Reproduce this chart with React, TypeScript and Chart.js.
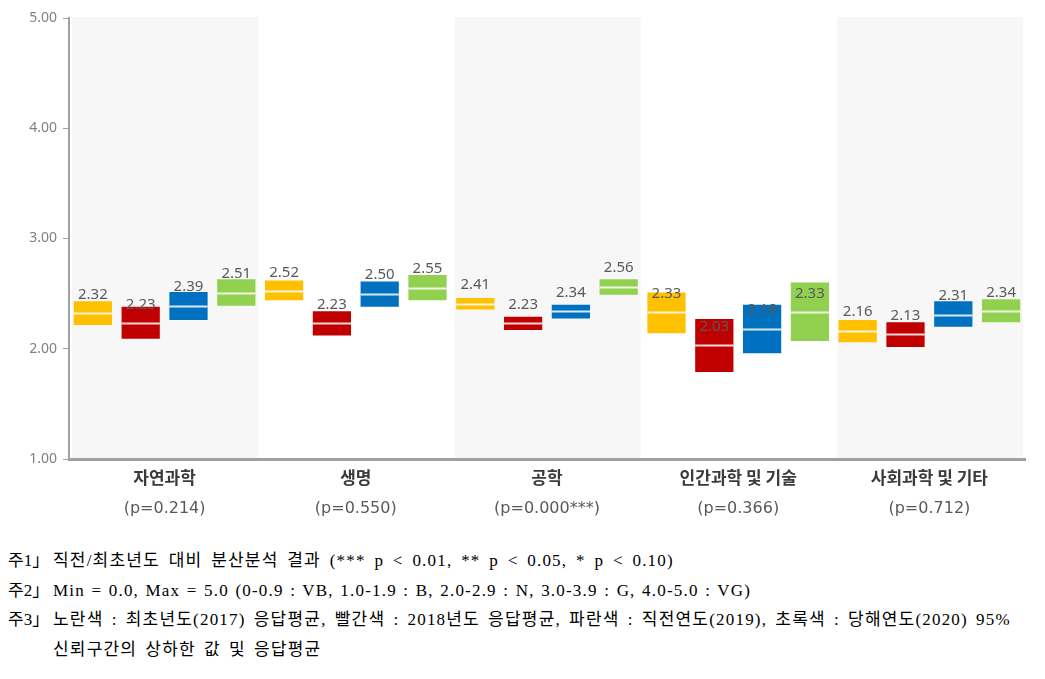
import React, { useEffect, useRef } from "react";
import { Chart, registerables } from "chart.js";

Chart.register(...registerables);

const categories = ["자연과학", "생명", "공학", "인간과학 및 기술", "사회과학 및 기타"];
const pLabels = ["(p=0.214)", "(p=0.550)", "(p=0.000***)", "(p=0.366)", "(p=0.712)"];
const seriesNames = ["최초년도(2017)", "2018년도", "직전연도(2019)", "당해연도(2020)"];
const seriesColors = ["#FFC000", "#C00000", "#0070C0", "#92D050"];

const mean2017 = [2.32, 2.52, 2.41, 2.33, 2.16];
const low2017 = [2.215, 2.44, 2.355, 2.14, 2.06];
const high2017 = [2.43, 2.62, 2.46, 2.51, 2.26];

const mean2018 = [2.23, 2.23, 2.23, 2.03, 2.13];
const low2018 = [2.09, 2.12, 2.17, 1.79, 2.015];
const high2018 = [2.38, 2.34, 2.29, 2.27, 2.24];

const mean2019 = [2.39, 2.5, 2.34, 2.18, 2.31];
const low2019 = [2.26, 2.38, 2.275, 1.96, 2.2];
const high2019 = [2.515, 2.61, 2.4, 2.4, 2.43];

const mean2020 = [2.51, 2.55, 2.56, 2.33, 2.34];
const low2020 = [2.39, 2.44, 2.49, 2.07, 2.24];
const high2020 = [2.63, 2.67, 2.63, 2.6, 2.45];

const yTicks = [1, 2, 3, 4, 5];

const means = [mean2017, mean2018, mean2019, mean2020];
const lows = [low2017, low2018, low2019, low2020];
const highs = [high2017, high2018, high2019, high2020];

const KR_FONT = "'Noto Sans CJK KR', 'Noto Sans', sans-serif";
const NUM_FONT = "'Noto Sans', 'DejaVu Sans', sans-serif";
const P_FONT = "'DejaVu Sans', 'Noto Sans', sans-serif";

const shadePlugin = {
  id: "shade",
  beforeDatasetsDraw(chart: any) {
    const { ctx, chartArea, scales } = chart;
    const x = scales.x;
    const n = categories.length;
    const w = (chartArea.right - chartArea.left) / n;
    ctx.save();
    ctx.fillStyle = "#f7f7f7";
    for (let i = 0; i < n; i += 2) {
      const c = x.getPixelForValue(i);
      ctx.fillRect(c - w / 2 + 3, chartArea.top - 1, w - 5, chartArea.bottom - chartArea.top);
    }
    ctx.restore();
  },
};

const meanPlugin = {
  id: "meanLines",
  afterDatasetsDraw(chart: any) {
    const { ctx, scales } = chart;
    const y = scales.y;
    ctx.save();
    chart.data.datasets.forEach((ds: any, di: number) => {
      const meta = chart.getDatasetMeta(di);
      meta.data.forEach((el: any, i: number) => {
        const m = means[di][i];
        const py = Math.round(y.getPixelForValue(m)) + 0.5;
        const half = el.width / 2;
        ctx.strokeStyle = "rgba(255,255,255,0.85)";
        ctx.lineWidth = 2;
        ctx.beginPath();
        ctx.moveTo(el.x - half, py);
        ctx.lineTo(el.x + half, py);
        ctx.stroke();
      });
    });
    chart.data.datasets.forEach((ds: any, di: number) => {
      const meta = chart.getDatasetMeta(di);
      meta.data.forEach((el: any, i: number) => {
        const m = means[di][i];
        const py = y.getPixelForValue(m) - 19;
        ctx.fillStyle = "#595959";
        ctx.font = `15px ${NUM_FONT}`;
        ctx.textAlign = "center";
        ctx.textBaseline = "middle";
        ctx.fillText(m.toFixed(2), el.x, py);
      });
    });
    ctx.restore();
  },
};

function ChartView() {
  const ref = useRef<HTMLCanvasElement | null>(null);
  useEffect(() => {
    if (!ref.current) return;
    const chart = new Chart(ref.current, {
      type: "bar",
      data: {
        labels: categories,
        datasets: seriesNames.map((name, di) => ({
          label: name,
          data: categories.map((_, i) => [lows[di][i], highs[di][i]]),
          backgroundColor: seriesColors[di],
          borderWidth: 0,
          borderSkipped: false,
          categoryPercentage: 1.0,
          barPercentage: 0.8,
        })),
      },
      options: {
        responsive: false,
        animation: false,
        layout: { padding: { top: 18, right: 20, left: 0, bottom: 0 } },
        plugins: {
          legend: { display: false },
          tooltip: { enabled: false },
        },
        scales: {
          x: {
            type: "category",
            offset: true,
            grid: { display: false, drawTicks: false, tickLength: 0 },
            border: { display: true, color: "#a0a0a0", width: 3 },
            ticks: {
              color: "#3a3a3a",
              font: { family: KR_FONT, size: 17, weight: "bold" },
              padding: 8,
              maxRotation: 0,
              autoSkip: false,
            },
            afterFit: (s: any) => {
              s.height = 31;
            },
          },
          x2: {
            type: "category",
            position: "bottom",
            labels: pLabels,
            offset: true,
            grid: { display: false, drawTicks: false, tickLength: 0 },
            border: { display: false },
            ticks: {
              color: "#595959",
              font: { family: P_FONT, size: 16 },
              padding: 9,
              maxRotation: 0,
              autoSkip: false,
            },
            afterFit: (s: any) => {
              s.height = 35;
            },
          },
          y: {
            min: 1,
            max: 5,
            afterBuildTicks: (s: any) => {
              s.ticks = yTicks.map((v) => ({ value: v }));
            },
            grid: {
              display: true,
              drawOnChartArea: false,
              drawTicks: true,
              tickLength: 6,
              color: "#a0a0a0",
            },
            border: { display: true, color: "#a0a0a0", width: 2 },
            ticks: {
              color: "#808080",
              font: { family: NUM_FONT, size: 14 },
              padding: 6,
              callback: (v: any) => Number(v).toFixed(2),
            },
            afterFit: (s: any) => {
              s.width = 69;
            },
          },
        },
      },
      plugins: [shadePlugin, meanPlugin],
    } as any);
    return () => chart.destroy();
  }, []);
  return <canvas ref={ref} width={1045} height={525} style={{ display: "block" }} />;
}

const noteStyle: React.CSSProperties = {
  fontFamily: "'Liberation Serif', 'DejaVu Serif', 'Noto Sans CJK KR', serif",
  fontSize: 17,
  lineHeight: "29.6px",
  color: "#000",
  whiteSpace: "nowrap",
};

const noteLabels = ["주1」", "주2」", "주3」", ""];
const noteTexts = [
  "직전/최초년도 대비 분산분석 결과 (*** p < 0.01, ** p < 0.05, * p < 0.10)",
  "Min = 0.0, Max = 5.0 (0-0.9 : VB, 1.0-1.9 : B, 2.0-2.9 : N, 3.0-3.9 : G, 4.0-5.0 : VG)",
  "노란색 : 최초년도(2017) 응답평균, 빨간색 : 2018년도 응답평균, 파란색 : 직전연도(2019), 초록색 : 당해연도(2020) 95%",
  "신뢰구간의 상하한 값 및 응답평균",
];
const noteWordSpacing = [3.3, 1.05, 2.7, 2.7];

export default function App() {
  useEffect(() => {
    document.body.style.margin = "0";
  }, []);
  return (
    <div style={{ width: 1045, height: 679, background: "#fff", position: "relative", overflow: "hidden" }}>
      <ChartView />
      <div style={{ ...noteStyle, position: "absolute", left: 8, top: 546 }}>
        {noteTexts.map((t, i) => (
          <div key={i} style={{ display: "flex" }}>
            <span style={{ display: "inline-block", width: 45, flex: "0 0 45px" }}>{noteLabels[i]}</span>
            <span style={{ letterSpacing: 1.2, wordSpacing: noteWordSpacing[i] }}>{t}</span>
          </div>
        ))}
      </div>
    </div>
  );
}
